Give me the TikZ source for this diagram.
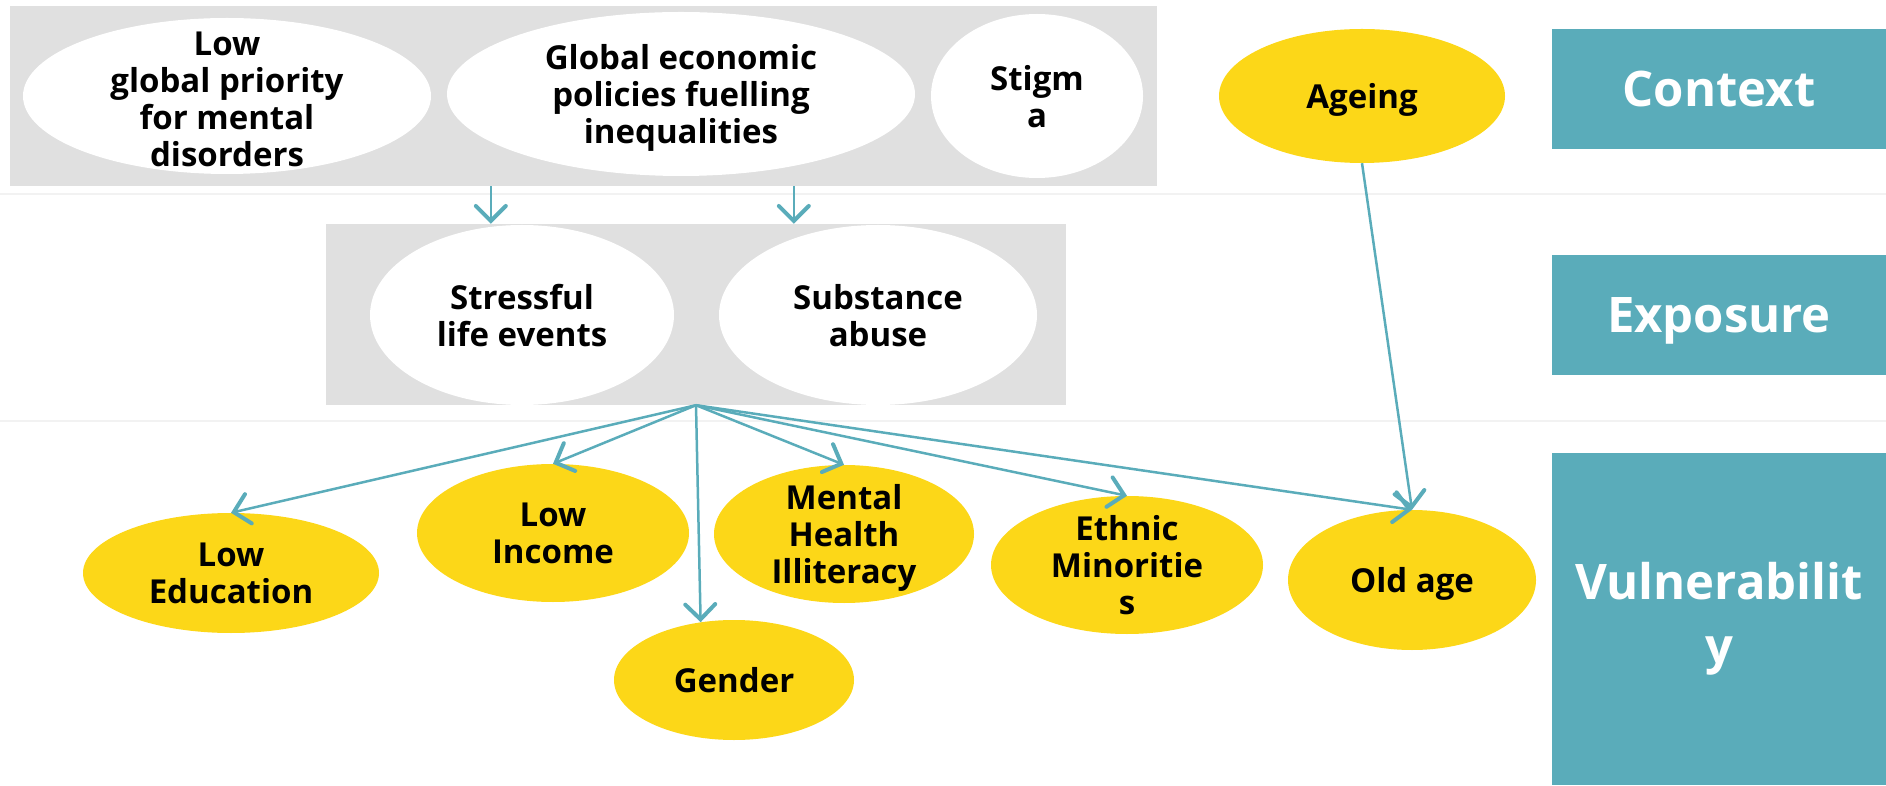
\documentclass[tikz,border=0pt]{standalone}
\usepackage{fontspec}
\setmainfont{Open Sans}
\usetikzlibrary{shapes.geometric,arrows.meta}
\definecolor{bandteal}{RGB}{90,172,186}
\definecolor{riskyellow}{RGB}{252,215,24}
\definecolor{groupgray}{RGB}{224,224,224}
\definecolor{rulegray}{RGB}{242,242,242}
\tikzstyle{group}=[rectangle,fill=groupgray,inner sep=0pt]
\tikzstyle{whiteoval}=[ellipse,fill=white,inner sep=0pt]
\tikzstyle{riskoval}=[ellipse,fill=riskyellow,inner sep=0pt]
\tikzstyle{ovaltext}=[align=center,inner sep=0pt,text depth=0pt,font=\fontsize{33}{37}\selectfont\bfseries]
\tikzstyle{band}=[rectangle,fill=bandteal,text=white,align=center,inner sep=0pt,
  minimum width=334,font=\fontsize{49}{64}\selectfont\bfseries]
\tikzstyle{link}=[->,draw=bandteal,line width=2.5pt]

\begin{document}
\begin{tikzpicture}[x=1pt,y=1pt,>={Straight Barb[length=15pt,width=30pt,line width=4pt,line cap=round]}]
      \useasboundingbox (0,0) rectangle (1886,785);
      \draw[rulegray,line width=2pt] (0,591) -- (1886,591);
      \draw[rulegray,line width=2pt] (0,364) -- (1886,364);

      % level bands
      \node[band,minimum height=120,text height=35pt,text depth=0pt] (context) at (1719,696) {Context};
      \node[band,minimum height=120,text height=35pt,text depth=0pt] (exposure) at (1719,470) {Exposure};
      \node[band,minimum height=332] (vulner) at (1719,166) {Vulnerabilit\\y};

      % context
      \node[group,minimum width=1147,minimum height=180] (ctxgroup) at (583.5,689) {};
      \node[whiteoval,minimum width=408,minimum height=156,
        label={[ovaltext,yshift=-3pt]center:Low\\global priority\\for mental\\disorders}] (priority) at (227,689) {};
      \node[whiteoval,minimum width=468,minimum height=164,
        label={[ovaltext]center:Global economic\\policies fuelling\\inequalities}] (policies) at (681,691) {};
      \node[whiteoval,minimum width=212,minimum height=164,
        label={[ovaltext]center:Stigm\\a}] (stigma) at (1037,689) {};
      \node[riskoval,minimum width=286,minimum height=134,
        label={[ovaltext]center:Ageing}] (ageing) at (1362,689) {};

      % exposure
      \node[group,minimum width=740,minimum height=181] (expgroup) at (696,470.5) {};
      \node[whiteoval,minimum width=304,minimum height=180,
        label={[ovaltext]center:Stressful\\life events}] (stress) at (522,470) {};
      \node[whiteoval,minimum width=318,minimum height=180,
        label={[ovaltext]center:Substance\\abuse}] (substance) at (878,470) {};

      % vulnerability
      \node[riskoval,minimum width=296,minimum height=120,
        label={[ovaltext]center:Low\\Education}] (education) at (231,212) {};
      \node[riskoval,minimum width=272,minimum height=138,
        label={[ovaltext]center:Low\\Income}] (income) at (553,252) {};
      \node[riskoval,minimum width=260,minimum height=138,
        label={[ovaltext]center:Mental\\Health\\Illiteracy}] (illiteracy) at (844,251) {};
      \node[riskoval,minimum width=240,minimum height=120,
        label={[ovaltext]center:Gender}] (gender) at (734,105) {};
      \node[riskoval,minimum width=272,minimum height=138,
        label={[ovaltext]center:Ethnic\\Minoritie\\s}] (ethnic) at (1127,220) {};
      \node[riskoval,minimum width=248,minimum height=140,
        label={[ovaltext]center:Old age}] (oldage) at (1412,205) {};

      % links
      \coordinate (drop1) at ([xshift=165pt]expgroup.north west);
      \coordinate (drop2) at ([xshift=468pt]expgroup.north west);
      \draw[link] (drop1 |- ctxgroup.south) -- (drop1);
      \draw[link] (drop2 |- ctxgroup.south) -- (drop2);
      \draw[link] (expgroup.south) -- (education.north);
      \draw[link] (expgroup.south) -- (income.north);
      \draw[link] (expgroup.south) -- (gender.120);
      \draw[link] (expgroup.south) -- (illiteracy.north);
      \draw[link] (expgroup.south) -- (ethnic.north);
      \draw[link] (expgroup.south) -- (oldage.north);
      \draw[link] (ageing.south) -- (oldage.north);
\end{tikzpicture}
\end{document}
